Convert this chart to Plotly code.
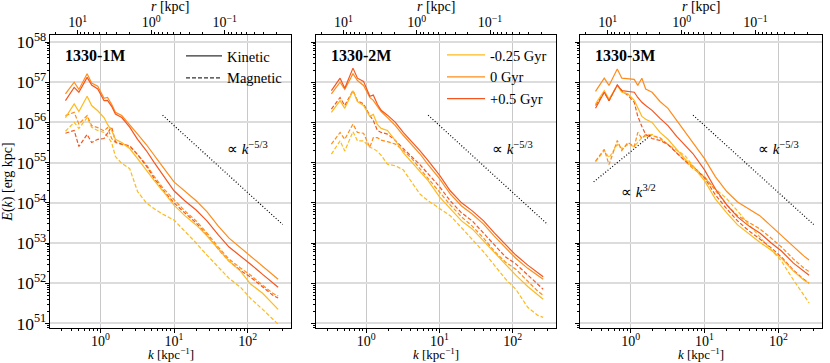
import numpy as np
import plotly.graph_objects as go

# wavenumber grid [kpc^-1]
K = [0.335, 0.44, 0.51, 0.66, 0.76, 0.92, 1.12, 1.25, 1.42, 1.6, 1.95, 2.5, 3.2, 4.2,
     5.4, 7.0, 10, 14, 20, 28, 40, 56, 80, 110, 160, 220, 260]

# log10 E(k) [erg kpc]
# --- 1330-1M
M1_KIN_NEG = [56.12, 56.46, 56.27, 56.65, 56.42, 56.29, 56.12, 55.95, 55.80, 55.58, 55.50, 55.35, 55.10, 54.80,
              54.55, 54.30, 53.94, 53.68, 53.45, 53.18, 52.85, 52.55, 52.30, 51.98, 51.75, 51.50, 51.35]
M1_KIN_ZERO = [56.71, 57.00, 56.82, 57.21, 56.98, 56.90, 56.60, 56.62, 56.45, 56.25, 56.17, 55.95, 55.71, 55.45,
               55.17, 54.90, 54.52, 54.28, 54.05, 53.78, 53.42, 53.12, 52.88, 52.68, 52.43, 52.22, 52.10]
M1_KIN_POS = [56.54, 56.87, 56.75, 57.12, 56.93, 56.83, 56.54, 56.55, 56.40, 56.21, 56.12, 55.88, 55.58, 55.30,
              55.00, 54.70, 54.30, 54.05, 53.82, 53.55, 53.20, 52.90, 52.66, 52.47, 52.22, 52.02, 51.90]
M1_MAG_NEG = [55.78, 56.00, 55.85, 56.12, 55.88, 55.80, 55.75, 55.65, 55.50, 55.15, 54.98, 54.85, 54.28, 54.00,
              53.85, 53.72, 53.57, 53.30, 53.00, 52.70, 52.40, 52.12, 51.90, 51.62, 51.35, 51.10, 50.98]
M1_MAG_ZERO = [56.17, 56.25, 55.96, 56.17, 55.92, 55.87, 55.79, 55.87, 55.60, 55.50, 55.45, 55.40, 55.20, 54.95,
               54.65, 54.38, 54.08, 53.80, 53.55, 53.25, 52.90, 52.60, 52.38, 52.20, 51.95, 51.75, 51.68]
M1_MAG_POS = [55.73, 55.80, 55.40, 55.70, 55.50, 55.58, 55.60, 55.75, 55.89, 55.52, 55.46, 55.42, 55.20, 54.92,
              54.60, 54.33, 54.00, 53.75, 53.50, 53.20, 52.85, 52.55, 52.32, 52.15, 51.90, 51.70, 51.63]
# --- 1330-2M
M2_KIN_NEG = [56.25, 56.54, 56.35, 56.79, 56.52, 56.42, 56.15, 56.20, 55.95, 55.85, 55.80, 55.55, 55.25, 55.00,
              54.78, 54.55, 54.15, 53.85, 53.55, 53.35, 53.05, 52.75, 52.45, 52.20, 51.92, 51.70, 51.60]
M2_KIN_ZERO = [56.71, 57.00, 56.82, 57.21, 57.04, 56.92, 56.62, 56.55, 56.40, 56.27, 56.12, 55.92, 55.68, 55.45,
               55.22, 54.95, 54.60, 54.22, 53.92, 53.72, 53.47, 53.17, 52.88, 52.62, 52.37, 52.18, 52.10]
M2_KIN_POS = [56.79, 57.10, 56.85, 57.35, 57.10, 57.02, 56.65, 56.68, 56.45, 56.30, 56.18, 56.00, 55.75, 55.52,
              55.30, 55.05, 54.69, 54.30, 54.00, 53.80, 53.55, 53.25, 52.95, 52.70, 52.45, 52.25, 52.16]
M2_MAG_NEG = [55.21, 55.54, 55.29, 55.77, 55.54, 55.54, 55.38, 55.35, 55.28, 55.18, 54.96, 54.92, 54.82, 54.50,
              54.22, 54.05, 53.85, 53.68, 53.38, 53.10, 52.78, 52.45, 52.10, 51.85, 51.40, 51.20, 51.15]
M2_MAG_ZERO = [55.46, 55.75, 55.58, 55.96, 55.75, 55.73, 55.38, 55.62, 55.62, 55.56, 55.52, 55.46, 55.30, 55.10,
               54.85, 54.60, 54.28, 53.95, 53.65, 53.42, 53.12, 52.80, 52.52, 52.35, 52.05, 51.80, 51.70]
M2_MAG_POS = [56.33, 56.62, 56.42, 56.79, 56.54, 56.46, 56.17, 56.05, 55.80, 55.75, 55.71, 55.55, 55.35, 55.15,
              54.95, 54.72, 54.40, 54.05, 53.75, 53.55, 53.25, 52.95, 52.65, 52.48, 52.20, 51.95, 51.85]
# --- 1330-3M
M3_KIN_NEG = [56.46, 56.79, 56.58, 56.92, 56.75, 56.71, 56.55, 56.35, 56.15, 56.08, 56.00, 55.75, 55.58, 55.33,
              55.10, 54.90, 54.55, 54.10, 53.75, 53.45, 53.22, 53.02, 52.82, 52.62, 52.30, 52.08, 52.00]
M3_KIN_ZERO = [56.77, 57.10, 56.92, 57.33, 57.10, 57.08, 57.07, 56.92, 57.10, 56.83, 56.75, 56.52, 56.35, 56.05,
               55.78, 55.50, 55.10, 54.65, 54.28, 54.02, 53.85, 53.68, 53.42, 53.18, 52.90, 52.68, 52.58]
M3_KIN_POS = [56.35, 56.75, 56.54, 56.93, 56.79, 56.77, 56.75, 56.62, 56.50, 56.42, 56.30, 56.10, 55.92, 55.65,
              55.45, 55.22, 54.82, 54.35, 53.95, 53.65, 53.42, 53.25, 53.00, 52.80, 52.50, 52.30, 52.20]
M3_MAG_NEG = [55.02, 55.30, 55.12, 55.45, 55.35, 55.45, 55.40, 55.50, 55.62, 55.66, 55.70, 55.58, 55.45, 55.32,
              55.18, 54.92, 54.62, 54.35, 54.10, 53.80, 53.45, 53.15, 52.82, 52.55, 52.08, 51.72, 51.51]
M3_MAG_ZERO = [55.04, 55.33, 54.95, 55.55, 55.30, 55.50, 55.40, 55.75, 55.60, 55.70, 55.67, 55.62, 55.45, 55.25,
               55.05, 54.85, 54.65, 54.30, 53.95, 53.68, 53.50, 53.35, 53.12, 52.90, 52.60, 52.38, 52.29]
M3_MAG_POS = [56.42, 56.75, 56.54, 56.93, 56.79, 56.67, 56.50, 56.15, 55.90, 55.70, 55.60, 55.55, 55.45, 55.25,
              55.05, 54.90, 54.62, 54.20, 53.85, 53.55, 53.30, 53.10, 52.88, 52.65, 52.32, 52.10, 52.00]

RUNS = ["1330-1M", "1330-2M", "1330-3M"]
TIMES = ["-0.25 Gyr", "0 Gyr", "+0.5 Gyr"]
COLORS = ["#ffba1c", "#ff8c1a", "#f5561f"]

# power-law guides
STEEP_K = [7.0, 300.0]
STEEP_LOGE0 = 56.18
STEEP_SLOPE = -5 / 3
SHALLOW_K = [0.316, 1.86]
SHALLOW_LOGE0 = 54.52
SHALLOW_SLOPE = 3 / 2

kin = [[M1_KIN_NEG, M1_KIN_ZERO, M1_KIN_POS],
       [M2_KIN_NEG, M2_KIN_ZERO, M2_KIN_POS],
       [M3_KIN_NEG, M3_KIN_ZERO, M3_KIN_POS]]
mag = [[M1_MAG_NEG, M1_MAG_ZERO, M1_MAG_POS],
       [M2_MAG_NEG, M2_MAG_ZERO, M2_MAG_POS],
       [M3_MAG_NEG, M3_MAG_ZERO, M3_MAG_POS]]

SERIF = "Liberation Serif"
W, H = 830, 363
XDOM = [(50 / W, 291 / W), (316 / W, 556 / W), (580 / W, 822 / W)]
YDOM = ((363 - 328) / H, (363 - 35) / H)
XR = [-0.685, 2.59]
YR = [50.886, 58.174]
LOGC = 0.69  # r = C / k
DASH = "4px,2px"

k = np.array(K)
fig = go.Figure()

for p in range(3):
    xa = "x" if p == 0 else f"x{p + 1}"
    ya = "y" if p == 0 else f"y{p + 1}"
    for i in range(3):
        fig.add_trace(go.Scatter(
            x=k, y=10 ** np.array(mag[p][i]), mode="lines", xaxis=xa, yaxis=ya,
            line=dict(color=COLORS[i], width=1.2, dash=DASH), showlegend=False, hoverinfo="skip"))
    for i in range(3):
        fig.add_trace(go.Scatter(
            x=k, y=10 ** np.array(kin[p][i]), mode="lines", xaxis=xa, yaxis=ya,
            line=dict(color=COLORS[i], width=1.2), name=TIMES[i],
            showlegend=(p == 1), legend="legend2", hoverinfo="skip"))
    ks = np.array(STEEP_K)
    fig.add_trace(go.Scatter(
        x=ks, y=10 ** (STEEP_LOGE0 + STEEP_SLOPE * np.log10(ks / ks[0])), mode="lines",
        xaxis=xa, yaxis=ya, line=dict(color="black", width=1.2, dash="1px,2px"),
        showlegend=False, hoverinfo="skip"))
    # invisible trace so the top r-axis is drawn
    fig.add_trace(go.Scatter(
        x=10 ** LOGC / k, y=10 ** np.array(kin[p][1]), mode="lines", xaxis=f"x{p + 4}", yaxis=ya,
        line=dict(width=0), opacity=0, showlegend=False, hoverinfo="skip"))

ksh = np.array(SHALLOW_K)
fig.add_trace(go.Scatter(
    x=ksh, y=10 ** (SHALLOW_LOGE0 + SHALLOW_SLOPE * np.log10(ksh / ksh[0])), mode="lines",
    xaxis="x3", yaxis="y3", line=dict(color="black", width=1.2, dash="1px,2px"),
    showlegend=False, hoverinfo="skip"))

for name, dash in [("Kinetic", "solid"), ("Magnetic", DASH)]:
    fig.add_trace(go.Scatter(x=[None], y=[None], mode="lines", name=name,
                             line=dict(color="#333333", width=1.3, dash=dash), legend="legend"))

font = dict(family=SERIF, size=14, color="black")
tickfont = dict(family=SERIF, size=14, color="black")
minor_k = [m * 10.0 ** e for e in (-1, 0, 1, 2) for m in range(2, 10)]
minor_r = [m * 10.0 ** e for e in (-2, -1, 0, 1) for m in range(2, 10)]
legfont = dict(family=SERIF, size=14.5, color="black")

layout = dict(
    width=W, height=H, margin=dict(l=0, r=0, t=0, b=0),
    paper_bgcolor="white", plot_bgcolor="white", font=font,
    legend=dict(x=181 / W, y=1 - 40 / H, xanchor="left", yanchor="top", bgcolor="rgba(0,0,0,0)",
                font=legfont, tracegroupgap=0, itemwidth=36),
    legend2=dict(x=442 / W, y=1 - 39 / H, xanchor="left", yanchor="top", bgcolor="rgba(0,0,0,0)",
                 font=legfont, tracegroupgap=0, itemwidth=38),
    annotations=[],
)

for p in range(3):
    sx = "" if p == 0 else str(p + 1)
    layout[f"xaxis{sx}"] = dict(
        type="log", domain=list(XDOM[p]), range=XR, anchor=f"y{sx}", automargin=False,
        tickmode="array", tickvals=[1, 10, 100],
        ticktext=["10<sup>0</sup>", "10<sup>1</sup>", "10<sup>2</sup>"],
        ticks="outside", ticklen=4, tickcolor="black", showline=True, linecolor="black", linewidth=1,
        showgrid=True, gridcolor="#c8c8c8", gridwidth=1, ticklabelstandoff=-4,
        minor=dict(tickvals=minor_k, ticks="outside", ticklen=2, tickcolor="black", showgrid=False),
        tickfont=tickfont,
    )
    layout[f"xaxis{p + 4}"] = dict(
        type="log", overlaying=f"x{sx}", side="top", anchor=f"y{sx}", automargin=False,
        range=[LOGC - XR[0], LOGC - XR[1]],
        tickmode="array", tickvals=[10, 1, 0.1],
        ticktext=["10<sup>1</sup>", "10<sup>0</sup>", "10<sup>−1</sup>"],
        ticks="outside", ticklen=4, tickcolor="black", showline=True, linecolor="black", linewidth=1,
        showgrid=False, ticklabelstandoff=-3,
        minor=dict(tickvals=minor_r, ticks="outside", ticklen=2, tickcolor="black", showgrid=False),
        tickfont=tickfont,
    )
    layout[f"yaxis{sx}"] = dict(
        type="log", domain=list(YDOM), range=YR, anchor=f"x{sx}", automargin=False,
        dtick=1, exponentformat="power", showexponent="all",
        showticklabels=(p == 0), ticklabelstandoff=-4,
        ticks="outside", ticklen=4, tickcolor="black", showline=True, linecolor="black", linewidth=1,
        mirror=True, showgrid=True, gridcolor="#dcdcdc", gridwidth=1.5,
        minor=dict(dtick="D1", ticks="outside", ticklen=2, tickcolor="black", showgrid=False),
        tickfont=tickfont,
        title=dict(text="<i>E</i>(<i>k</i>) [erg kpc]" if p == 0 else "",
                   font=dict(family=SERIF, size=14)),
    )
    xr = "x" if p == 0 else f"x{p + 1}"
    yr = "y" if p == 0 else f"y{p + 1}"
    xmid = (XDOM[p][0] + XDOM[p][1]) / 2
    layout["annotations"] += [
        dict(text=f"<b>{RUNS[p]}</b>", xref=f"{xr} domain", yref=f"{yr} domain", x=13 / 241,
             y=(328 - 55) / 293, xanchor="left", yanchor="middle", showarrow=False,
             font=dict(family=SERIF, size=16)),
        dict(text="∝ <i>k</i><sup>−5/3</sup>", xref=xr, yref=yr, x=2.0, y=55.36,
             xanchor="center", yanchor="middle", showarrow=False, font=dict(family=SERIF, size=15)),
        dict(text="<i>k</i> [kpc<sup>−1</sup>]", xref="paper", yref="paper", x=xmid, y=0,
             xanchor="center", yanchor="bottom", showarrow=False, borderpad=0,
             font=dict(family=SERIF, size=13)),
        dict(text="<i>r</i> [kpc]", xref="paper", yref="paper", x=xmid, y=1 - 7 / H,
             xanchor="center", yanchor="middle", showarrow=False, font=dict(family=SERIF, size=14)),
    ]

layout["annotations"] += [
    dict(text="∝ <i>k</i><sup>3/2</sup>", xref="x3", yref="y3", x=0.11, y=54.29,
         xanchor="center", yanchor="middle", showarrow=False, font=dict(family=SERIF, size=15)),
]

fig.update_layout(**layout)
fig.write_html("out.html", config={"displayModeBar": False},
               post_script="document.body.style.margin='0';")
